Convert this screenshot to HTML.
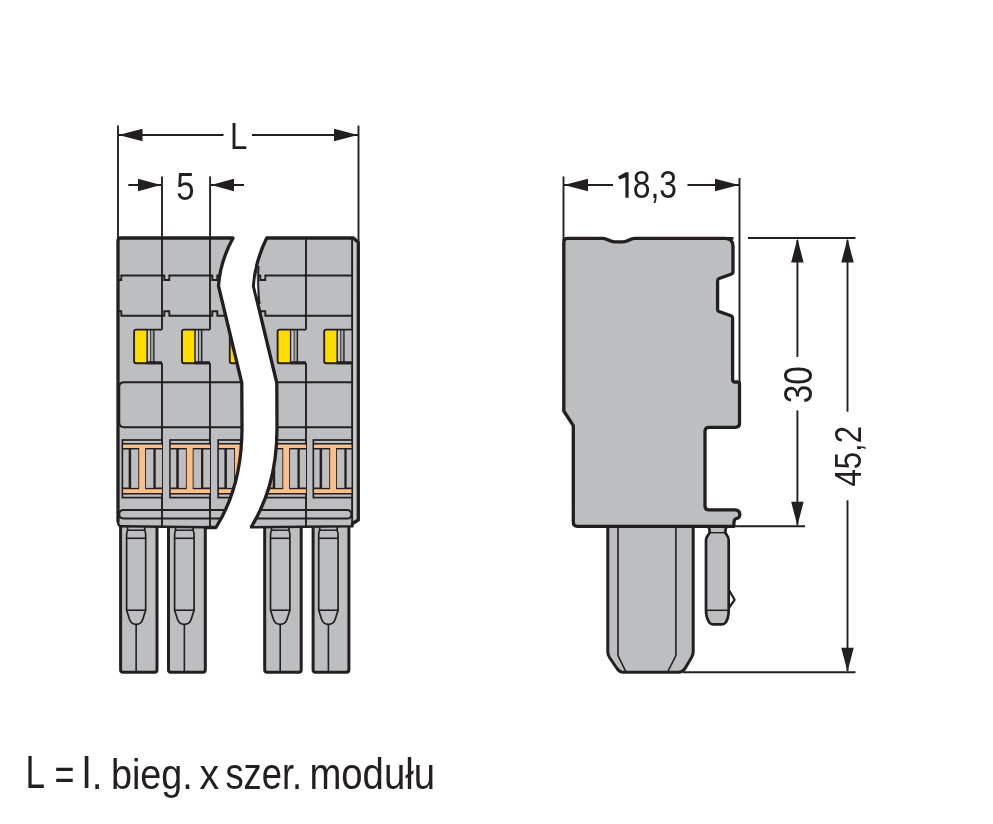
<!DOCTYPE html>
<html><head><meta charset="utf-8"><title>drawing</title>
<style>html,body{margin:0;padding:0;background:#fff;width:993px;height:824px;overflow:hidden}svg{display:block;will-change:transform}</style>
</head><body>
<svg width="993" height="824" viewBox="0 0 993 824">
<rect width="993" height="824" fill="#ffffff"/>
<defs><clipPath id="cl"><path d="M121,238 L233,238 Q220,262 218.5,286 L241.8,383 L242,428 C242,475 230,505 216,527.5 L205.5,527.5 L205.5,526 L121,526 Q118,526 118,522 L118,241 Q118,238 121,238 Z"/></clipPath><clipPath id="cr"><path d="M266.7,238 L353.5,238 L358.3,242.5 L358.3,520 L352.5,523.5 L352.5,526 L250,527.5 C264.5,505 277,475 277,428 L276.8,383 L253.5,286 Q255,262 266.7,238 Z"/></clipPath></defs>

<path d="M120.6,520 L120.6,669.8 Q120.6,672.3 123.1,672.3 L154.5,672.3 Q157.0,672.3 157.0,669.8 L157.0,520" fill="#bcbec0" stroke="#231f20" stroke-width="3"/>
<path d="M127.6,526 L127.5,530.5 Q126.6,532.5 126.6,535.5 L126.6,610.2 L129.6,619.5 Q131.1,624.3 136.14,624.3 Q141.2,624.3 142.7,619.5 L145.7,610.2 L145.7,535.5 Q145.7,532.5 144.79,530.5 L144.7,526" fill="none" stroke="#231f20" stroke-width="1.7" stroke-linejoin="round"/>
<line x1="127.1" y1="530.2" x2="145.2" y2="530.2" stroke="#231f20" stroke-width="1.5"/>
<line x1="126.6" y1="538.3" x2="145.7" y2="538.3" stroke="#231f20" stroke-width="1.6"/>
<line x1="126.6" y1="610.2" x2="145.7" y2="610.2" stroke="#231f20" stroke-width="1.6"/>
<line x1="136.14" y1="624" x2="136.14" y2="672.3" stroke="#231f20" stroke-width="1.6"/>
<path d="M168.5,520 L168.5,669.8 Q168.5,672.3 171.0,672.3 L202.8,672.3 Q205.3,672.3 205.3,669.8 L205.3,520" fill="#bcbec0" stroke="#231f20" stroke-width="3"/>
<path d="M175.6,526 L175.5,530.5 Q174.6,532.5 174.6,535.5 L174.6,610.2 L177.6,619.5 Q179.1,624.3 184.35,624.3 Q189.6,624.3 191.1,619.5 L194.1,610.2 L194.1,535.5 Q194.1,532.5 193.2,530.5 L193.1,526" fill="none" stroke="#231f20" stroke-width="1.7" stroke-linejoin="round"/>
<line x1="175.1" y1="530.2" x2="193.6" y2="530.2" stroke="#231f20" stroke-width="1.5"/>
<line x1="174.6" y1="538.3" x2="194.1" y2="538.3" stroke="#231f20" stroke-width="1.6"/>
<line x1="174.6" y1="610.2" x2="194.1" y2="610.2" stroke="#231f20" stroke-width="1.6"/>
<line x1="184.35" y1="624" x2="184.35" y2="672.3" stroke="#231f20" stroke-width="1.6"/>
<path d="M264.7,520 L264.7,669.8 Q264.7,672.3 267.2,672.3 L298.7,672.3 Q301.2,672.3 301.2,669.8 L301.2,520" fill="#bcbec0" stroke="#231f20" stroke-width="3"/>
<path d="M271.5,526 L271.4,530.5 Q270.5,532.5 270.5,535.5 L270.5,610.2 L273.5,619.5 Q275.0,624.3 280.2,624.3 Q285.4,624.3 286.9,619.5 L289.9,610.2 L289.9,535.5 Q289.9,532.5 289.0,530.5 L288.9,526" fill="none" stroke="#231f20" stroke-width="1.7" stroke-linejoin="round"/>
<line x1="271.0" y1="530.2" x2="289.4" y2="530.2" stroke="#231f20" stroke-width="1.5"/>
<line x1="270.5" y1="538.3" x2="289.9" y2="538.3" stroke="#231f20" stroke-width="1.6"/>
<line x1="270.5" y1="610.2" x2="289.9" y2="610.2" stroke="#231f20" stroke-width="1.6"/>
<line x1="280.2" y1="624" x2="280.2" y2="672.3" stroke="#231f20" stroke-width="1.6"/>
<path d="M313.1,520 L313.1,669.8 Q313.1,672.3 315.6,672.3 L346.4,672.3 Q348.9,672.3 348.9,669.8 L348.9,520" fill="#bcbec0" stroke="#231f20" stroke-width="3"/>
<path d="M319.7,526 L319.59,530.5 Q318.7,532.5 318.7,535.5 L318.7,610.2 L321.7,619.5 Q323.2,624.3 328.4,624.3 Q333.6,624.3 335.1,619.5 L338.1,610.2 L338.1,535.5 Q338.1,532.5 337.20,530.5 L337.1,526" fill="none" stroke="#231f20" stroke-width="1.7" stroke-linejoin="round"/>
<line x1="319.2" y1="530.2" x2="337.6" y2="530.2" stroke="#231f20" stroke-width="1.5"/>
<line x1="318.7" y1="538.3" x2="338.1" y2="538.3" stroke="#231f20" stroke-width="1.6"/>
<line x1="318.7" y1="610.2" x2="338.1" y2="610.2" stroke="#231f20" stroke-width="1.6"/>
<line x1="328.4" y1="624" x2="328.4" y2="672.3" stroke="#231f20" stroke-width="1.6"/>
<path d="M121,238 L233,238 Q220,262 218.5,286 L241.8,383 L242,428 C242,475 230,505 216,527.5 L205.5,527.5 L205.5,526 L121,526 Q118,526 118,522 L118,241 Q118,238 121,238 Z" fill="#bcbec0"/>
<g clip-path="url(#cl)">
<path d="M300,382.2 L124,382.2 Q119.3,382.2 119.3,386.8 L119.3,422.6 Q119.3,427.2 124,427.2 L300,427.2" fill="none" stroke="#231f20" stroke-width="1.9"/>
<path d="M300,510 L123.6,510 Q119.3,510 119.3,514.25 Q119.3,518.5 123.6,518.5 L300,518.5" fill="none" stroke="#231f20" stroke-width="1.9"/>
<line x1="162" y1="236" x2="162" y2="329.5" stroke="#231f20" stroke-width="1.9"/>
<line x1="162" y1="363" x2="162" y2="528" stroke="#231f20" stroke-width="1.9"/>
<path d="M114,275.5 L116.3,275.5 L116.3,280 L121.3,280 L121.3,275.5 L162,275.5" fill="none" stroke="#231f20" stroke-width="1.9"/>
<path d="M114,315.7 L116.3,315.7 L116.3,311.3 L121.3,311.3 L121.3,315.7 L162,315.7" fill="none" stroke="#231f20" stroke-width="1.9"/>
<rect x="134.1" y="329.6" width="27.90" height="33.6" fill="#bcbec0"/>
<rect x="134.1" y="329.6" width="12.4" height="33.5" fill="#ffdc00"/>
<rect x="146.5" y="330" width="8" height="33" fill="#c9cacc"/>
<rect x="150.9" y="330" width="2.4" height="33" fill="#a4a6a8"/>
<line x1="147.1" y1="330" x2="147.1" y2="363" stroke="#231f20" stroke-width="1.4"/>
<line x1="150.6" y1="330" x2="150.6" y2="363" stroke="#231f20" stroke-width="0.9"/>
<line x1="153.85" y1="330" x2="153.85" y2="363" stroke="#231f20" stroke-width="1.4"/>
<path d="M162,329.6 L136.1,329.6 Q134.1,329.6 134.1,331.6 L134.1,361.3 Q134.1,363.3 136.1,363.3 L162,363.3" fill="none" stroke="#231f20" stroke-width="1.9"/>
<line x1="146.5" y1="362.8" x2="162" y2="362.8" stroke="#231f20" stroke-width="3"/>
<rect x="122.4" y="440" width="39.59" height="57.6" fill="#bcbec0" stroke="#231f20" stroke-width="1.7"/>
<rect x="123.2" y="444.5" width="38.8" height="48.7" fill="#fcbf87"/>
<line x1="122.4" y1="443.7" x2="162" y2="443.7" stroke="#231f20" stroke-width="1.6"/>
<line x1="122.4" y1="493.8" x2="162" y2="493.8" stroke="#231f20" stroke-width="1.6"/>
<rect x="122.9" y="448" width="16.30" height="41.2" fill="#231f20"/>
<rect x="145.1" y="448" width="16.89" height="41.2" fill="#231f20"/>
<rect x="123.2" y="449.5" width="5.45" height="38" fill="#bcbec0"/>
<rect x="155.70" y="449.5" width="6.29" height="38" fill="#bcbec0"/>
<rect x="131.15" y="449.4" width="7.15" height="38.5" fill="#bcbec0"/>
<rect x="146.0" y="449.4" width="7.4" height="38.5" fill="#bcbec0"/>
<line x1="210" y1="236" x2="210" y2="329.5" stroke="#231f20" stroke-width="1.9"/>
<line x1="210" y1="363" x2="210" y2="528" stroke="#231f20" stroke-width="1.9"/>
<path d="M162,275.5 L164.3,275.5 L164.3,280 L169.3,280 L169.3,275.5 L210,275.5" fill="none" stroke="#231f20" stroke-width="1.9"/>
<path d="M162,315.7 L164.3,315.7 L164.3,311.3 L169.3,311.3 L169.3,315.7 L210,315.7" fill="none" stroke="#231f20" stroke-width="1.9"/>
<rect x="182.0" y="329.6" width="28.0" height="33.6" fill="#bcbec0"/>
<rect x="182.0" y="329.6" width="12.4" height="33.5" fill="#ffdc00"/>
<rect x="194.4" y="330" width="8" height="33" fill="#c9cacc"/>
<rect x="198.8" y="330" width="2.4" height="33" fill="#a4a6a8"/>
<line x1="195.0" y1="330" x2="195.0" y2="363" stroke="#231f20" stroke-width="1.4"/>
<line x1="198.5" y1="330" x2="198.5" y2="363" stroke="#231f20" stroke-width="0.9"/>
<line x1="201.75" y1="330" x2="201.75" y2="363" stroke="#231f20" stroke-width="1.4"/>
<path d="M210,329.6 L184.0,329.6 Q182.0,329.6 182.0,331.6 L182.0,361.3 Q182.0,363.3 184.0,363.3 L210,363.3" fill="none" stroke="#231f20" stroke-width="1.9"/>
<line x1="194.4" y1="362.8" x2="210" y2="362.8" stroke="#231f20" stroke-width="3"/>
<rect x="170.0" y="440" width="40.0" height="57.6" fill="#bcbec0" stroke="#231f20" stroke-width="1.7"/>
<rect x="170.8" y="444.5" width="39.2" height="48.7" fill="#fcbf87"/>
<line x1="170.0" y1="443.7" x2="210" y2="443.7" stroke="#231f20" stroke-width="1.6"/>
<line x1="170.0" y1="493.8" x2="210" y2="493.8" stroke="#231f20" stroke-width="1.6"/>
<rect x="170.5" y="448" width="16.30" height="41.2" fill="#231f20"/>
<rect x="192.7" y="448" width="17.3" height="41.2" fill="#231f20"/>
<rect x="170.8" y="449.5" width="5.45" height="38" fill="#bcbec0"/>
<rect x="203.3" y="449.5" width="6.69" height="38" fill="#bcbec0"/>
<rect x="178.75" y="449.4" width="7.15" height="38.5" fill="#bcbec0"/>
<rect x="193.6" y="449.4" width="7.4" height="38.5" fill="#bcbec0"/>
<line x1="258" y1="236" x2="258" y2="329.5" stroke="#231f20" stroke-width="1.9"/>
<line x1="258" y1="363" x2="258" y2="528" stroke="#231f20" stroke-width="1.9"/>
<path d="M210,275.5 L212.3,275.5 L212.3,280 L217.3,280 L217.3,275.5 L258,275.5" fill="none" stroke="#231f20" stroke-width="1.9"/>
<path d="M210,315.7 L212.3,315.7 L212.3,311.3 L217.3,311.3 L217.3,315.7 L258,315.7" fill="none" stroke="#231f20" stroke-width="1.9"/>
<rect x="229.8" y="329.6" width="28.19" height="33.6" fill="#bcbec0"/>
<rect x="229.8" y="329.6" width="12.4" height="33.5" fill="#ffdc00"/>
<rect x="242.20" y="330" width="8" height="33" fill="#c9cacc"/>
<rect x="246.60" y="330" width="2.4" height="33" fill="#a4a6a8"/>
<line x1="242.8" y1="330" x2="242.8" y2="363" stroke="#231f20" stroke-width="1.4"/>
<line x1="246.3" y1="330" x2="246.3" y2="363" stroke="#231f20" stroke-width="0.9"/>
<line x1="249.55" y1="330" x2="249.55" y2="363" stroke="#231f20" stroke-width="1.4"/>
<path d="M258,329.6 L231.8,329.6 Q229.8,329.6 229.8,331.6 L229.8,361.3 Q229.8,363.3 231.8,363.3 L258,363.3" fill="none" stroke="#231f20" stroke-width="1.9"/>
<line x1="242.20" y1="362.8" x2="258" y2="362.8" stroke="#231f20" stroke-width="3"/>
<rect x="218.15" y="440" width="39.84" height="57.6" fill="#bcbec0" stroke="#231f20" stroke-width="1.7"/>
<rect x="218.95" y="444.5" width="39.05" height="48.7" fill="#fcbf87"/>
<line x1="218.15" y1="443.7" x2="258" y2="443.7" stroke="#231f20" stroke-width="1.6"/>
<line x1="218.15" y1="493.8" x2="258" y2="493.8" stroke="#231f20" stroke-width="1.6"/>
<rect x="218.65" y="448" width="16.30" height="41.2" fill="#231f20"/>
<rect x="240.85" y="448" width="17.14" height="41.2" fill="#231f20"/>
<rect x="218.95" y="449.5" width="5.45" height="38" fill="#bcbec0"/>
<rect x="251.45" y="449.5" width="6.54" height="38" fill="#bcbec0"/>
<rect x="226.9" y="449.4" width="7.15" height="38.5" fill="#bcbec0"/>
<rect x="241.75" y="449.4" width="7.4" height="38.5" fill="#bcbec0"/>
</g>
<path d="M118,522 L118,241 Q118,238 121,238 L233,238 Q220,262 218.5,286 L241.8,383 L242,428 C242,475 230,505 216,527.5 L205.5,527.5" fill="none" stroke="#231f20" stroke-width="3.3" stroke-linejoin="round"/>
<path d="M207,527.3 L121.5,526.3 Q118,526.3 118,522" fill="none" stroke="#231f20" stroke-width="2.4" stroke-linejoin="round"/>
<path d="M266.7,238 L353.5,238 L358.3,242.5 L358.3,520 L352.5,523.5 L352.5,526 L250,527.5 C264.5,505 277,475 277,428 L276.8,383 L253.5,286 Q255,262 266.7,238 Z" fill="#bcbec0"/>
<g clip-path="url(#cr)">
<path d="M200,382.2 L352.3,382.2 M200,427.2 L352.3,427.2" fill="none" stroke="#231f20" stroke-width="1.9"/>
<path d="M200,510 L347,510 Q351.3,510 351.3,514.2 Q351.3,518.5 347,518.5 L200,518.5" fill="none" stroke="#231f20" stroke-width="1.9"/>
<line x1="306" y1="236" x2="306" y2="329.5" stroke="#231f20" stroke-width="1.9"/>
<line x1="306" y1="363" x2="306" y2="528" stroke="#231f20" stroke-width="1.9"/>
<path d="M258,275.5 L260.3,275.5 L260.3,280 L265.3,280 L265.3,275.5 L306,275.5" fill="none" stroke="#231f20" stroke-width="1.9"/>
<path d="M258,315.7 L260.3,315.7 L260.3,311.3 L265.3,311.3 L265.3,315.7 L306,315.7" fill="none" stroke="#231f20" stroke-width="1.9"/>
<rect x="277.6" y="329.6" width="28.39" height="33.6" fill="#bcbec0"/>
<rect x="277.6" y="329.6" width="12.4" height="33.5" fill="#ffdc00"/>
<rect x="290.0" y="330" width="8" height="33" fill="#c9cacc"/>
<rect x="294.4" y="330" width="2.4" height="33" fill="#a4a6a8"/>
<line x1="290.6" y1="330" x2="290.6" y2="363" stroke="#231f20" stroke-width="1.4"/>
<line x1="294.1" y1="330" x2="294.1" y2="363" stroke="#231f20" stroke-width="0.9"/>
<line x1="297.35" y1="330" x2="297.35" y2="363" stroke="#231f20" stroke-width="1.4"/>
<path d="M306,329.6 L279.6,329.6 Q277.6,329.6 277.6,331.6 L277.6,361.3 Q277.6,363.3 279.6,363.3 L306,363.3" fill="none" stroke="#231f20" stroke-width="1.9"/>
<line x1="290.0" y1="362.8" x2="306" y2="362.8" stroke="#231f20" stroke-width="3"/>
<rect x="266.45" y="440" width="39.55" height="57.6" fill="#bcbec0" stroke="#231f20" stroke-width="1.7"/>
<rect x="267.25" y="444.5" width="38.75" height="48.7" fill="#fcbf87"/>
<line x1="266.45" y1="443.7" x2="306" y2="443.7" stroke="#231f20" stroke-width="1.6"/>
<line x1="266.45" y1="493.8" x2="306" y2="493.8" stroke="#231f20" stroke-width="1.6"/>
<rect x="266.95" y="448" width="16.30" height="41.2" fill="#231f20"/>
<rect x="289.15" y="448" width="16.85" height="41.2" fill="#231f20"/>
<rect x="267.25" y="449.5" width="5.45" height="38" fill="#bcbec0"/>
<rect x="299.75" y="449.5" width="6.25" height="38" fill="#bcbec0"/>
<rect x="275.2" y="449.4" width="7.15" height="38.5" fill="#bcbec0"/>
<rect x="290.05" y="449.4" width="7.4" height="38.5" fill="#bcbec0"/>
<line x1="352.3" y1="236" x2="352.3" y2="329.5" stroke="#231f20" stroke-width="1.9"/>
<line x1="352.3" y1="363" x2="352.3" y2="528" stroke="#231f20" stroke-width="1.9"/>
<path d="M304.3,275.5 L352.3,275.5 M304.3,315.7 L352.3,315.7" fill="none" stroke="#231f20" stroke-width="1.9"/>
<rect x="324.2" y="329.6" width="28.10" height="33.6" fill="#bcbec0"/>
<rect x="324.2" y="329.6" width="12.4" height="33.5" fill="#ffdc00"/>
<rect x="336.59" y="330" width="8" height="33" fill="#c9cacc"/>
<rect x="340.99" y="330" width="2.4" height="33" fill="#a4a6a8"/>
<line x1="337.2" y1="330" x2="337.2" y2="363" stroke="#231f20" stroke-width="1.4"/>
<line x1="340.7" y1="330" x2="340.7" y2="363" stroke="#231f20" stroke-width="0.9"/>
<line x1="343.95" y1="330" x2="343.95" y2="363" stroke="#231f20" stroke-width="1.4"/>
<path d="M352.3,329.6 L326.2,329.6 Q324.2,329.6 324.2,331.6 L324.2,361.3 Q324.2,363.3 326.2,363.3 L352.3,363.3" fill="none" stroke="#231f20" stroke-width="1.9"/>
<line x1="336.59" y1="362.8" x2="352.3" y2="362.8" stroke="#231f20" stroke-width="3"/>
<rect x="313.35" y="440" width="38.94" height="57.6" fill="#bcbec0" stroke="#231f20" stroke-width="1.7"/>
<rect x="314.15" y="444.5" width="38.14" height="48.7" fill="#fcbf87"/>
<line x1="313.35" y1="443.7" x2="352.3" y2="443.7" stroke="#231f20" stroke-width="1.6"/>
<line x1="313.35" y1="493.8" x2="352.3" y2="493.8" stroke="#231f20" stroke-width="1.6"/>
<rect x="313.85" y="448" width="16.30" height="41.2" fill="#231f20"/>
<rect x="336.05" y="448" width="16.24" height="41.2" fill="#231f20"/>
<rect x="314.15" y="449.5" width="5.45" height="38" fill="#bcbec0"/>
<rect x="346.65" y="449.5" width="5.64" height="38" fill="#bcbec0"/>
<rect x="322.1" y="449.4" width="7.15" height="38.5" fill="#bcbec0"/>
<rect x="336.95" y="449.4" width="7.4" height="38.5" fill="#bcbec0"/>
<rect x="353" y="238" width="5" height="290" fill="#c9cacc"/>
<line x1="352.3" y1="238" x2="352.3" y2="523" stroke="#231f20" stroke-width="1.6"/>
</g>
<path d="M251,527.5 C264.5,505 277,475 277,428 L276.8,383 L253.5,286 Q255,262 266.7,238 L353.5,238 L358.3,242.5 L358.3,520 L352.5,523.5 L352.5,525" fill="none" stroke="#231f20" stroke-width="3.3" stroke-linejoin="round"/>
<path d="M352.5,524 L352.5,526.3 L250,527.3" fill="none" stroke="#231f20" stroke-width="2.4" stroke-linejoin="round"/>
<path d="M256.3,273 L254.9,286 L257.6,298 Q256.7,285.5 256.3,273 Z" fill="#ffffff"/>
<path d="M258.6,266 Q257.4,285.5 259.6,304" fill="none" stroke="#231f20" stroke-width="1.9"/>

<path d="M607.8,520 L607.8,652 Q607.8,655 609.5,657.5 L617,668.5 Q619.8,672.2 623,672.2 L679,672.2 Q682.2,672.2 685,668.5 L691.5,657.5 Q693.2,655 693.2,652 L693.2,520" fill="#bcbec0" stroke="#231f20" stroke-width="3" stroke-linejoin="round"/>
<path d="M618,526 L618,655.5 L626,672 M675.9,526 L675.9,655.5 L667.6,672" fill="none" stroke="#231f20" stroke-width="1.6"/>
<path d="M728.7,589.5 L734.6,599.8 L727.8,609.5" fill="#ffffff" stroke="#231f20" stroke-width="2.2" stroke-linejoin="round"/>
<path d="M707.3,526.3 C709.2,527 709.6,529 709.6,532.3 C709.6,534.3 706,536 706,540 L706,610.5 C706,615.5 708,620.5 709.3,622.5 Q710.6,624.3 713,624.3 L722,624.3 Q724.4,624.3 725.7,622.5 C727,620.5 728.7,615.5 728.7,610.5 L728.7,540 C728.7,536 725.4,534.3 725.4,532.3 C725.4,529 725.8,527 727.7,526.3 Z" fill="#bcbec0" stroke="#231f20" stroke-width="2.7" stroke-linejoin="round"/>
<line x1="709" y1="532.7" x2="726" y2="532.7" stroke="#231f20" stroke-width="1.4"/>
<line x1="706.5" y1="610.3" x2="728.5" y2="610.3" stroke="#231f20" stroke-width="1.5"/>
<path d="M567.5,238.3 L603,238.3 C607.5,238.3 609.5,241.9 614.5,241.9 L623,241.9 C628,241.9 630,238.3 634.5,238.3 L725,238.3 Q733,238.3 733,246.3 L733,272 Q733,273.5 731,274.2 L719,278.5 Q717.6,279 717.6,281 L717.6,309.5 Q717.6,311 719,311.5 L731,315.7 Q732.6,316.4 732.6,318 L732.6,379.5 Q732.6,382 735,382 L737.5,382 Q739.5,382 739.5,384 L739.5,423.5 Q739.5,427.3 735.5,427.3 L709,427.3 Q705,427.3 705,431.3 L705,506 Q705,509.9 709,509.9 L735,509.9 C741,509.9 741,518 737,518.3 C734,518.6 733.8,521 733.8,526.3 L577.5,526.3 Q573.3,526.3 573.3,522 L573.3,425.6 L563.8,411 L563.8,242 Q563.8,238.3 567.5,238.3 Z" fill="#bcbec0" stroke="#231f20" stroke-width="3.3" stroke-linejoin="round"/>
<line x1="720" y1="238.3" x2="733.5" y2="238.3" stroke="#231f20" stroke-width="2.6"/>

<line x1="118" y1="125.5" x2="118" y2="238" stroke="#231f20" stroke-width="1.9"/>
<line x1="358.5" y1="125.5" x2="358.5" y2="242" stroke="#231f20" stroke-width="1.9"/>
<line x1="118" y1="135" x2="223.5" y2="135" stroke="#231f20" stroke-width="1.9"/>
<line x1="252" y1="135" x2="358.5" y2="135" stroke="#231f20" stroke-width="1.9"/>
<path d="M118.5,135 L142.5,128.75 L142.5,141.25 Z" fill="#231f20"/>
<path d="M358,135 L334,128.75 L334,141.25 Z" fill="#231f20"/>
<line x1="128.3" y1="185" x2="161" y2="185" stroke="#231f20" stroke-width="1.9"/>
<line x1="211" y1="185" x2="244" y2="185" stroke="#231f20" stroke-width="1.9"/>
<path d="M161,185 L138,178.75 L138,191.25 Z" fill="#231f20"/>
<path d="M211,185 L234,178.75 L234,191.25 Z" fill="#231f20"/>
<line x1="162" y1="176.4" x2="162" y2="238" stroke="#231f20" stroke-width="1.9"/>
<line x1="210.1" y1="176.4" x2="210.1" y2="238" stroke="#231f20" stroke-width="1.9"/>
<line x1="563.5" y1="176.5" x2="563.5" y2="240" stroke="#231f20" stroke-width="1.9"/>
<line x1="739.5" y1="178" x2="739.5" y2="383" stroke="#231f20" stroke-width="1.9"/>
<line x1="563.5" y1="185" x2="613" y2="185" stroke="#231f20" stroke-width="1.9"/>
<line x1="687.5" y1="185" x2="739.5" y2="185" stroke="#231f20" stroke-width="1.9"/>
<path d="M564,185 L588,178.75 L588,191.25 Z" fill="#231f20"/>
<path d="M739,185 L715,178.75 L715,191.25 Z" fill="#231f20"/>
<line x1="748" y1="238" x2="855.5" y2="238" stroke="#231f20" stroke-width="1.9"/>
<line x1="734" y1="526.3" x2="805" y2="526.3" stroke="#231f20" stroke-width="1.9"/>
<line x1="683" y1="672.2" x2="855.5" y2="672.2" stroke="#231f20" stroke-width="1.9"/>
<line x1="797.4" y1="240" x2="797.4" y2="357" stroke="#231f20" stroke-width="1.9"/>
<line x1="797.4" y1="410.4" x2="797.4" y2="525" stroke="#231f20" stroke-width="1.9"/>
<path d="M797.4,238.5 L791.15,262.5 L803.65,262.5 Z" fill="#231f20"/>
<path d="M797.4,525.8 L791.15,501.79 L803.65,501.79 Z" fill="#231f20"/>
<line x1="847.5" y1="240" x2="847.5" y2="411.7" stroke="#231f20" stroke-width="1.9"/>
<line x1="847.5" y1="500.3" x2="847.5" y2="671" stroke="#231f20" stroke-width="1.9"/>
<path d="M847.5,238.5 L841.25,262.5 L853.75,262.5 Z" fill="#231f20"/>
<path d="M847.5,671.7 L841.25,647.7 L853.75,647.7 Z" fill="#231f20"/>
<text x="230.00" y="148.80" font-family="Liberation Sans, sans-serif" font-size="37.48" textLength="17.38" lengthAdjust="spacingAndGlyphs" fill="#231f20">L</text>
<text x="176.20" y="199.60" font-family="Liberation Sans, sans-serif" font-size="38.58" textLength="18.30" lengthAdjust="spacingAndGlyphs" fill="#231f20">5</text>
<text x="632.80" y="198.00" font-family="Liberation Sans, sans-serif" font-size="38.79" textLength="44.28" lengthAdjust="spacingAndGlyphs" fill="#231f20">8,3</text>
<text transform="translate(812.40,403.20) rotate(-90)" x="0" y="0" font-family="Liberation Sans, sans-serif" font-size="40.83" textLength="37.03" lengthAdjust="spacingAndGlyphs" fill="#231f20">30</text>
<text transform="translate(861.00,486.60) rotate(-90)" x="0" y="0" font-family="Liberation Sans, sans-serif" font-size="37.72" textLength="60.57" lengthAdjust="spacingAndGlyphs" fill="#231f20">45,2</text>
<text x="25.60" y="788.30" font-family="Liberation Sans, sans-serif" font-size="45.33" textLength="19.56" lengthAdjust="spacingAndGlyphs" fill="#231f20">L</text>
<text x="54.40" y="788.70" font-family="Liberation Sans, sans-serif" font-size="45.00" textLength="19.92" lengthAdjust="spacingAndGlyphs" fill="#231f20">=</text>
<text x="82.00" y="788.30" font-family="Liberation Sans, sans-serif" font-size="43.91" textLength="9.15" lengthAdjust="spacingAndGlyphs" fill="#231f20">l</text>
<text x="91.70" y="788.70" font-family="Liberation Sans, sans-serif" font-size="45.00" textLength="10.72" lengthAdjust="spacingAndGlyphs" fill="#231f20">.</text>
<text x="111.00" y="788.90" font-family="Liberation Sans, sans-serif" font-size="43.27" textLength="81.79" lengthAdjust="spacingAndGlyphs" fill="#231f20">bieg.</text>
<text x="199.40" y="789.10" font-family="Liberation Sans, sans-serif" font-size="43.12" textLength="19.62" lengthAdjust="spacingAndGlyphs" fill="#231f20">x</text>
<text x="225.40" y="788.70" font-family="Liberation Sans, sans-serif" font-size="45.00" textLength="76.67" lengthAdjust="spacingAndGlyphs" fill="#231f20">szer.</text>
<text x="309.40" y="788.70" font-family="Liberation Sans, sans-serif" font-size="44.18" textLength="125.60" lengthAdjust="spacingAndGlyphs" fill="#231f20">modułu</text>
<path d="M618.1,176.6 L625.6,172.3 L628.6,172.3 L628.6,197.8 L625.4,197.8 L625.4,177.3 L619.4,179.4 Z" fill="#231f20"/>
</svg>
</body></html>
